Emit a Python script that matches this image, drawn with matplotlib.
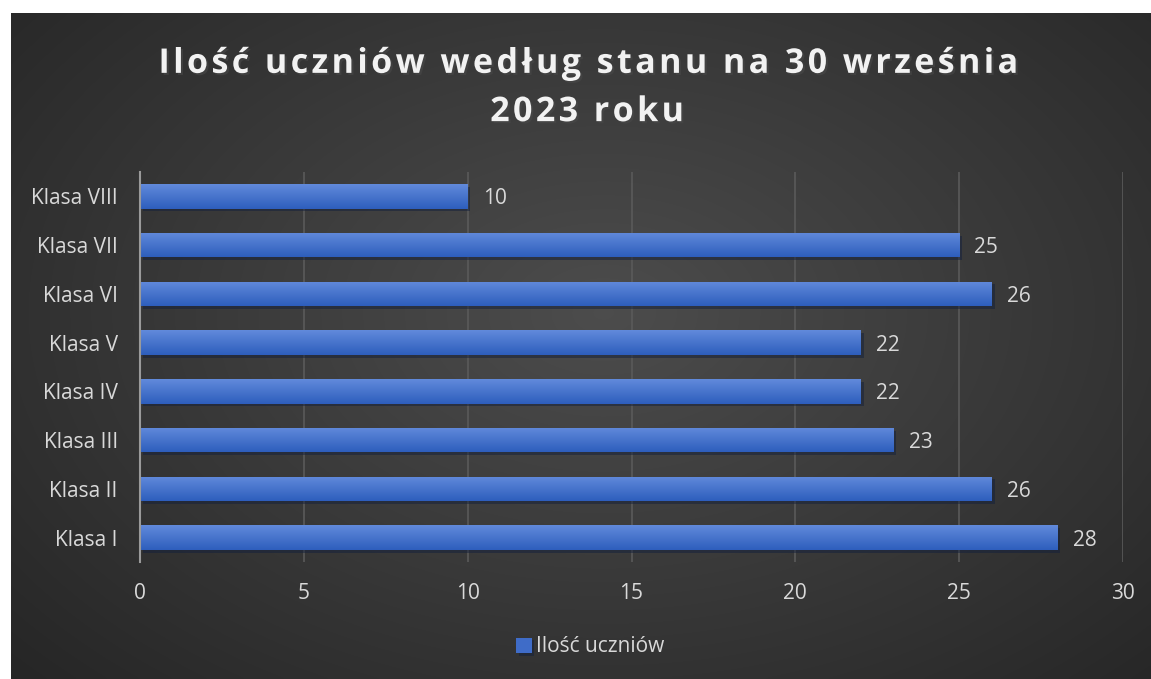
import numpy as np
import matplotlib
matplotlib.use("Agg")
import matplotlib.pyplot as plt
import matplotlib.patheffects as pe

# data
classes = ["Klasa I", "Klasa II", "Klasa III", "Klasa IV",
           "Klasa V", "Klasa VI", "Klasa VII", "Klasa VIII"]
students = [28, 26, 23, 22, 22, 26, 25, 10]
series_name = "Ilość uczniów"
title_lines = ["Ilość uczniów według stanu na 30 września", "2023 roku"]

plt.rcParams["font.family"] = ["Open Sans", "DejaVu Sans"]
W, H = 1151, 679
fig = plt.figure(figsize=(W / 100, H / 100), dpi=100)
fig.patch.set_facecolor("white")

# dark radial background, offset by the white margin
bg = fig.add_axes([11 / W, 0, 1 - 11 / W, 1 - 13 / H], zorder=-10)
yy, xx = np.mgrid[0:1:300j, 0:1:500j]
r = np.sqrt(((xx - 0.52) / 0.75) ** 2 + ((yy - 0.45) / 0.85) ** 2)
shade = 0.30 - 0.16 * np.clip(r, 0, 1)
bg.imshow(np.dstack([shade] * 3), aspect="auto", extent=[0, 1, 0, 1],
          interpolation="bicubic")
bg.axis("off")

ax = fig.add_axes([140 / W, 1 - 562 / H, (1123 - 140) / W, (562 - 172) / H])
ax.set_facecolor("none")
pos = np.arange(len(classes))
bars = ax.barh(pos, students, height=0.5, color="#3f6cc8", zorder=3,
               path_effects=[pe.SimplePatchShadow(offset=(2, -2), alpha=0.5),
                             pe.Normal()])

# vertical gradient on each bar
grad = np.linspace(0, 1, 50).reshape(-1, 1)
top_c = np.array([0.38, 0.54, 0.86])
bot_c = np.array([0.18, 0.37, 0.74])
img = top_c * (1 - grad[..., None]) + bot_c * grad[..., None]
for b in bars:
    x0, y0 = b.get_x(), b.get_y()
    im = ax.imshow(img, aspect="auto", zorder=4,
                   extent=[x0, x0 + b.get_width(), y0, y0 + b.get_height()],
                   origin="upper")
    im.set_clip_path(b)

for b, v in zip(bars, students):
    ax.annotate(str(v), (b.get_width(), b.get_y() + b.get_height() / 2),
                xytext=(11, 0), textcoords="offset points",
                va="center_baseline", ha="left", color="#d9d9d9", fontsize=15)

ax.set_xlim(0, 30)
ax.set_ylim(-0.5, len(classes) - 0.5)
ax.set_xticks(range(0, 31, 5))
ax.set_yticks(pos)
ax.set_yticklabels(classes)
ax.tick_params(axis="both", length=0, colors="#d9d9d9", labelsize=15)
ax.tick_params(axis="y", pad=16)
ax.tick_params(axis="x", pad=15)
ax.grid(axis="x", color="#5a5a5a", linewidth=1.2, zorder=0)
for s in ["top", "right", "bottom"]:
    ax.spines[s].set_visible(False)
ax.spines["left"].set_color("#9a9a9a")
ax.spines["left"].set_linewidth(1.5)
ax.spines["left"].set_zorder(5)

# title with loose letter spacing (hair spaces between letters)
spaced = "\n".join("\u200a".join(line) for line in title_lines)
fig.text(0.51, 1 - 88 / H, spaced, ha="center", va="center", fontsize=24.5,
         fontweight="bold", color="#f2f2f2", linespacing=1.55,
         path_effects=[pe.withSimplePatchShadow(offset=(1.5, -1.5), alpha=0.6)])

leg = fig.legend([bars[0]], [series_name], loc="center",
                 bbox_to_anchor=(590 / W, 1 - 647 / H), frameon=False,
                 fontsize=15, handlelength=0.75, handleheight=0.75,
                 handletextpad=0.2, labelcolor="#d9d9d9")

fig.savefig("out.png", dpi=100, facecolor="white")
